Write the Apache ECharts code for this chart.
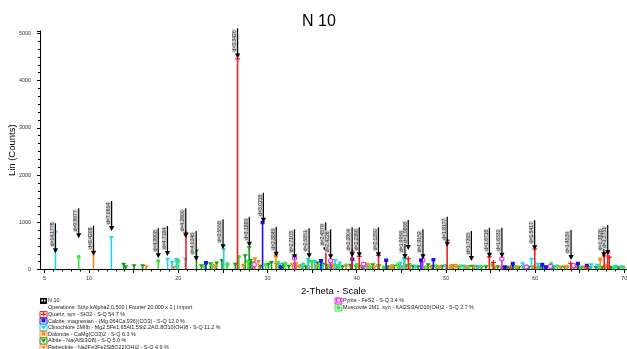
<!DOCTYPE html>
<html><head><meta charset="utf-8">
<script src="https://cdn.jsdelivr.net/npm/echarts@6/dist/echarts.min.js"></script>
<style>html,body{margin:0;padding:0;background:#fff}#c{width:627px;height:349px}</style>
</head><body><div id="c"></div><script>
// ---- data (2-Theta, Lin Counts) ----
const quartz = [[20.86,790],[26.64,4470],[36.54,440],[39.47,400],[40.29,290],[42.45,310],[45.79,240],[50.14,630],[54.87,280],[55.33,160],[57.24,40],[59.96,440],[63.99,140],[65.79,40],[67.74,300],[68.14,370],[68.31,270]];
const calcite = [[23.1,150],[29.45,1000],[31.5,60],[36.0,190],[39.5,220],[43.3,200],[47.2,200],[48.6,210],[56.6,60],[57.5,130],[60.8,110],[61.2,60],[64.8,130],[65.8,90]];
const clinochlore = [[6.23,800],[12.5,690],[18.8,230],[19.3,160],[19.8,220],[20.8,230],[25.1,430],[31.4,120],[33.9,100],[34.55,220],[35.3,180],[36.2,90],[37.6,200],[38.1,150],[40.9,70],[44.9,150],[45.3,240],[46.6,80],[50.0,80],[52.0,70],[53.6,60],[58.6,130],[59.6,230],[60.3,120],[62.2,80],[64.1,60],[66.3,110],[67.0,100],[69.0,80],[69.6,70]];
const dolomite = [[24.1,80],[30.95,290],[33.6,80],[35.4,90],[37.4,100],[41.2,110],[43.8,70],[45.0,60],[49.3,60],[50.6,80],[51.1,90],[52.3,60],[58.9,60],[59.8,60],[63.5,70],[64.6,60],[67.3,220],[67.9,80]];
const albite = [[13.87,120],[14.1,70],[15.05,90],[16.0,90],[22.04,400],[22.6,90],[23.6,130],[24.3,150],[24.9,200],[25.5,100],[26.4,120],[27.5,300],[27.95,470],[28.1,200],[28.3,150],[29.2,80],[30.1,120],[30.45,160],[31.0,120],[31.8,120],[32.4,80],[33.2,70],[33.9,90],[34.3,70],[35.0,180],[35.6,150],[36.2,120],[36.7,100],[37.2,90],[37.8,80],[38.4,70],[39.3,100],[39.9,80],[40.6,70],[41.2,80],[41.8,110],[42.5,90],[43.5,70],[44.2,80],[44.8,70],[45.5,90],[46.3,80],[46.9,70],[48.0,110],[48.5,80],[49.0,70],[49.6,80],[50.8,90],[51.4,70],[52.0,80],[52.6,70],[53.0,80],[53.5,70],[54.0,60],[54.5,70],[55.8,70],[56.9,60],[57.5,80],[58.2,60],[58.7,70],[59.3,60],[60.5,60],[61.2,60],[62.0,70],[62.9,60],[63.3,60],[64.5,60],[65.2,60],[66.2,50],[66.8,60],[67.5,60],[68.5,60],[69.3,50]];
const riebeckite = [[10.5,360],[16.4,70],[19.5,60],[27.3,100],[28.6,240],[29.0,180],[32.8,120],[33.2,140],[34.6,60],[38.8,80],[40.3,60],[42.0,70],[44.0,60],[45.9,60],[48.3,60],[53.2,60],[55.5,60],[56.2,50],[58.0,60],[60.2,50],[62.8,60],[65.5,60],[69.5,60]];
const pyrite = [[28.51,110],[33.04,250],[37.08,190],[40.78,120],[47.41,200],[56.27,230],[59.0,60],[61.7,70],[64.3,90]];
const muscovite = [[8.84,280],[17.75,190],[19.8,210],[20.0,190],[22.9,90],[23.8,110],[25.5,130],[26.8,280],[27.8,180],[29.8,110],[31.2,160],[32.0,140],[34.0,120],[34.6,190],[35.0,170],[35.8,100],[36.9,90],[37.9,90],[38.8,100],[40.0,110],[40.8,80],[41.5,60],[42.4,90],[43.0,60],[44.0,90],[44.6,110],[45.4,250],[46.0,110],[47.7,60],[48.9,80],[50.0,90],[50.5,70],[51.6,80],[52.5,60],[53.9,70],[55.2,110],[56.5,60],[57.8,70],[59.0,80],[60.3,60],[61.0,70],[61.8,130],[62.5,80],[63.6,70],[65.0,50],[65.9,60],[67.2,60],[68.8,50],[69.9,60]];

const annX = [6.23,8.84,10.50,12.53,17.76,18.79,20.84,22.01,25.02,26.65,27.97,29.54,30.98,33.03,34.67,36.53,37.08,39.49,40.29,42.44,45.41,45.78,47.43,50.15,52.86,54.88,56.28,59.95,64.03,67.71,68.14];
const annY = [343,660,292,815,237,286,660,180,428,4470,480,990,271,216,237,364,215,258,258,258,222,413,215,483,180,250,250,410,200,260,307];
const annText = ['d=14.1776','d=9.9977','d=8.4208','d=7.0614','d=4.9908','d=4.7184','d=4.2600','d=4.0346','d=3.5558','d=3.3420','d=3.1880','d=3.0215','d=2.8845','d=2.7103','d=2.5851','d=2.4579','d=2.4226','d=2.2804','d=2.2366','d=2.1280','d=1.9958','d=1.9806','d=1.9152','d=1.8177','d=1.7305','d=1.6716','d=1.6332','d=1.5417','d=1.4529','d=1.3826','d=1.3751'];

const xLabels = [5,10,20,30,40,50,60,70];
const yLabels = [0,1000,2000,3000,4000,5000];

const legendLeft = ['N 10','Operations: Strip kAlpha2 0.500 | Fourier 20.000 x 1 | Import','Quartz, syn - SiO2 - S-Q 54.7 %','Calcite, magnesian - (Mg.064Ca.936)(CO3) - S-Q 12.0 %','Clinochlore 1MIIb - Mg2.5Fe1.65Al1.5Si2.2Al1.8O10(OH)8 - S-Q 11.2 %','Dolomite - CaMg(CO3)2 - S-Q 6.3 %','Albite - Na(AlSi3O8) - S-Q 5.0 %','Riebeckite - Na2Fe3Fe2Si8O22(OH)2 - S-Q 4.9 %'];
const legendRight = ['Pyrite - FeS2 - S-Q 3.4 %','Muscovite 2M1, syn - KAl2Si3AlO10(OH)2 - S-Q 2.7 %'];

// ---- styles ----
const FONT = 'Liberation Sans, Arial, sans-serif';
const phases = [
  {name:'Albite', data:albite, color:'#129a12', shape:'tri'},
  {name:'Muscovite', data:muscovite, color:'#3be83b', shape:'circle'},
  {name:'Riebeckite', data:riebeckite, color:'#f28a1c', shape:'tri'},
  {name:'Dolomite', data:dolomite, color:'#f7901e', shape:'square'},
  {name:'Clinochlore', data:clinochlore, color:'#22d0f0', shape:'tri'},
  {name:'Pyrite', data:pyrite, color:'#ee1eee', shape:'sqo'},
  {name:'Calcite', data:calcite, color:'#1414e6', shape:'square'},
  {name:'Quartz', data:quartz, color:'#f51e1e', shape:'plus'}
];

function marker(kind, x, y, c) {
  if (kind === 'plus') return {type:'group', children:[
    {type:'line', shape:{x1:x-2.5,y1:y+0.5,x2:x+2.5,y2:y+0.5}, style:{stroke:c,lineWidth:1.3}},
    {type:'line', shape:{x1:x,y1:y-2,x2:x,y2:y+2.5}, style:{stroke:c,lineWidth:1.3}}]};
  if (kind === 'square') return {type:'rect', shape:{x:x-2,y:y-1.5,width:4,height:3.5}, style:{fill:c}};
  if (kind === 'sqo') return {type:'rect', shape:{x:x-2,y:y-1.5,width:4,height:3.5}, style:{fill:'#fff',stroke:c,lineWidth:1}};
  if (kind === 'circle') return {type:'circle', shape:{cx:x,cy:y+0.5,r:2}, style:{fill:c}};
  return {type:'polygon', shape:{points:[[x-2.6,y-1],[x+2.6,y-1],[x,y+2.5]]}, style:{fill:c}};
}

function stickSeries(p) {
  return {
    type:'custom', name:p.name, xAxisIndex:0, yAxisIndex:0, clip:true,
    data:p.data, encode:{x:0,y:1}, silent:true,
    renderItem(params, api) {
      const top = api.coord([api.value(0), api.value(1)]);
      const base = api.coord([api.value(0), 0]);
      return {type:'group', children:[
        {type:'line', shape:{x1:top[0],y1:base[1],x2:top[0],y2:top[1]}, style:{stroke:p.color,lineWidth:1.6}},
        marker(p.shape, top[0], top[1], p.color)
      ]};
    }
  };
}

const annSeries = {
  type:'custom', name:'d', xAxisIndex:0, yAxisIndex:0, silent:true,
  data: annX.map((x,i)=>[x, annY[i]]), encode:{x:0,y:1}, z:10,
  renderItem(params, api) {
    const p = api.coord([api.value(0), api.value(1)]);
    const x = p[0], y = p[1];
    return {type:'group', children:[
      {type:'text', x:x-0.6, y:y-6, rotation:Math.PI/2,
       style:{text:annText[params.dataIndex], fontSize:5, fontFamily:FONT, fill:'#333',
              backgroundColor:'#cfcfcf', padding:[0,1,0,1], align:'left', verticalAlign:'bottom'}},
      {type:'line', shape:{x1:x,y1:y-30,x2:x,y2:y-3}, style:{stroke:'#000',lineWidth:1.2}},
      {type:'polygon', shape:{points:[[x-2.6,y-5],[x+2.6,y-5],[x,y]]}, style:{fill:'#000'}}
    ]};
  }
};

// ---- legend graphics ----
const gfx = [];
const lgColors = ['#000','','#f51e1e','#1414e6','#22d0f0','#f7901e','#129a12','#f28a1c'];
const lgShapes = ['blk','','plus','square','tri','square','tri','tri'];
const lgRowsY = [301,308,314.6,321.2,327.8,334.4,341,347.6];
function legendIcon(x, y, c, shape) {
  const ch = [];
  if (shape === 'blk') {
    ch.push({type:'rect', shape:{x:x,y:y-3,width:7,height:6}, style:{fill:'#000'}});
    ch.push({type:'rect', shape:{x:x+1.5,y:y-1.5,width:1.5,height:2}, style:{fill:'#fff'}});
    ch.push({type:'rect', shape:{x:x+4,y:y-1.5,width:1.5,height:2}, style:{fill:'#fff'}});
  } else {
    ch.push({type:'rect', shape:{x:x,y:y-3,width:7,height:6}, style:{fill:'#fff',stroke:c,lineWidth:1}});
    ch.push(marker(shape, x+3.5, y-0.8, c));
  }
  return {type:'group', children:ch};
}
legendLeft.forEach((t,i)=>{
  if (lgShapes[i]) gfx.push(legendIcon(40, lgRowsY[i], lgColors[i], lgShapes[i]));
  gfx.push({type:'text', x:48, y:lgRowsY[i], style:{text:t, fontSize:5.4, fontFamily:FONT, fill:'#222', verticalAlign:'middle'}});
});
const rgColors = ['#ee1eee','#3be83b'], rgShapes = ['sqo','circle'];
legendRight.forEach((t,i)=>{
  gfx.push(legendIcon(335, lgRowsY[i], rgColors[i], rgShapes[i]));
  gfx.push({type:'text', x:343, y:lgRowsY[i], style:{text:t, fontSize:5.4, fontFamily:FONT, fill:'#222', verticalAlign:'middle'}});
});

const minorX = [];
for (let v = 5; v <= 70; v += 1) minorX.push(v);
const majorX = [];
for (let v = 5; v <= 70; v += 5) majorX.push(v);

const chart = echarts.init(document.getElementById('c'), null, {renderer:'canvas'});
chart.setOption({
  animation:false,
  backgroundColor:'#fff',
  title:{text:'N 10', left:297, top:9, textStyle:{fontSize:16, fontWeight:'normal', fontFamily:FONT, color:'#000'}},
  grid:{left:40, right:0, top:31, bottom:79.5, containLabel:false, outerBoundsMode:'none'},
  xAxis:[{
    type:'value', min:4.5, max:70.3,
    name:'2-Theta - Scale', nameLocation:'middle', nameGap:17, nameMoveOverlap:false,
    nameTextStyle:{fontSize:9.5, fontFamily:FONT, color:'#000'},
    axisLine:{show:true, lineStyle:{color:'#000', width:1}},
    axisTick:{show:true, length:3.5, customValues:majorX, lineStyle:{color:'#000'}},
    axisLabel:{show:false},
    splitLine:{show:false}
  },{
    type:'value', min:4.5, max:70.3, position:'bottom',
    axisLine:{show:false}, splitLine:{show:false},
    axisTick:{show:true, length:2, customValues:minorX, lineStyle:{color:'#000'}},
    axisLabel:{show:true, customValues:xLabels, interval:0, hideOverlap:false, showMinLabel:true, showMaxLabel:true,
               fontSize:5.4, fontFamily:FONT, color:'#333', margin:7, formatter:v=>String(v)}
  }],
  yAxis:{
    type:'value', min:0, max:5050, interval:1000,
    name:'Lin (Counts)', nameLocation:'middle', nameGap:23, nameMoveOverlap:false,
    nameTextStyle:{fontSize:9.5, fontFamily:FONT, color:'#000'},
    axisLine:{show:true, lineStyle:{color:'#000', width:1}},
    axisTick:{show:true, length:3, lineStyle:{color:'#000'}},
    minorTick:{show:true, splitNumber:6, length:2, lineStyle:{color:'#000'}},
    axisLabel:{fontSize:5.4, fontFamily:FONT, color:'#333', margin:9, showMaxLabel:false,
               formatter:v=>(yLabels.indexOf(v) >= 0 ? String(v) : '')},
    splitLine:{show:false}
  },
  series: phases.map(stickSeries).concat([annSeries]),
  graphic: gfx
});
</script></body></html>
